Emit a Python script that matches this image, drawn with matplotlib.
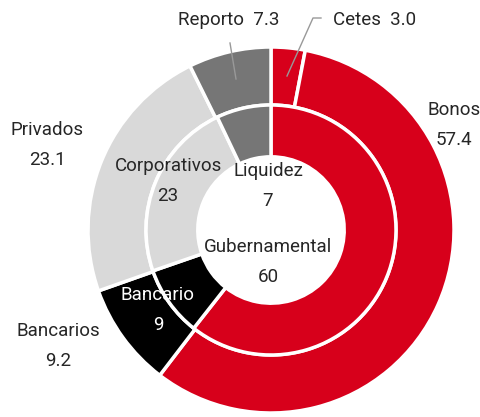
import matplotlib.pyplot as plt

# outer ring (instrumento)
outer_labels = ["Cetes", "Bonos", "Bancarios", "Privados", "Reporto"]
outer_values = [3.0, 57.4, 9.2, 23.1, 7.3]
outer_colors = ["#d7001b", "#d7001b", "#000000", "#d9d9d9", "#767676"]

# inner ring (sector)
inner_labels = ["Gubernamental", "Bancario", "Corporativos", "Liquidez"]
inner_values = [60, 9, 23, 7]
inner_colors = ["#d7001b", "#000000", "#d9d9d9", "#767676"]

plt.rcParams['font.family'] = ['Roboto', 'DejaVu Sans']

fig = plt.figure(figsize=(4.81, 4.17), dpi=100)
ax = fig.add_axes([0, 0, 1, 1])
R = 183.0
cx, cy = 271.0, 230.0

def pos(px, py):
    return (px - cx) / R, (cy - py) / R

ax.pie(outer_values, radius=1.0, colors=outer_colors, startangle=90, counterclock=False,
       wedgeprops=dict(width=0.317, edgecolor='white', linewidth=2.5))
ax.pie(inner_values, radius=0.683, colors=inner_colors, startangle=90, counterclock=False,
       wedgeprops=dict(width=0.283, edgecolor='white', linewidth=2.5))
ax.set_aspect('equal')
ax.set_xlim(-cx / R, (481 - cx) / R)
ax.set_ylim(-(417 - cy) / R, cy / R)
ax.axis('off')

tc = '#262626'
fs = 13.5
ls = 1.8
kw = dict(ha='center', va='center', fontsize=fs, linespacing=ls)
# outer labels
ax.text(*pos(229, 20), f"{outer_labels[4]}  {outer_values[4]:.1f}", color=tc, **kw)
ax.text(*pos(375, 20), f"{outer_labels[0]}  {outer_values[0]:.1f}", color=tc, **kw)
ax.text(*pos(454, 125), f"{outer_labels[1]}\n{outer_values[1]:.1f}", color=tc, **kw)
ax.text(*pos(47, 145), f"{outer_labels[3]}\n{outer_values[3]:.1f}", color=tc, **kw)
ax.text(*pos(58, 346), f"{outer_labels[2]}\n{outer_values[2]:.1f}", color=tc, **kw)

# inner labels
ax.text(*pos(168, 181), f"{inner_labels[2]}\n{inner_values[2]}", color=tc, **kw)
ax.text(*pos(268, 186), f"{inner_labels[3]}\n{inner_values[3]}", color=tc, **kw)
ax.text(*pos(268, 262), f"{inner_labels[0]}\n{inner_values[0]}", color=tc, **kw)
ax.text(*pos(158, 310), f"{inner_labels[1]}\n{inner_values[1]}", color='white', **kw)

# leader lines
x0, y0 = pos(236, 79)
x1, y1 = pos(230, 43)
ax.plot([x0, x1], [y0, y1], color='#999999', lw=1)
xa, ya = pos(287, 76)
xb, yb = pos(313, 18)
xc, yc = pos(321, 18)
ax.plot([xa, xb, xc], [ya, yb, yc], color='#999999', lw=1)

fig.savefig('out.png', dpi=100)
